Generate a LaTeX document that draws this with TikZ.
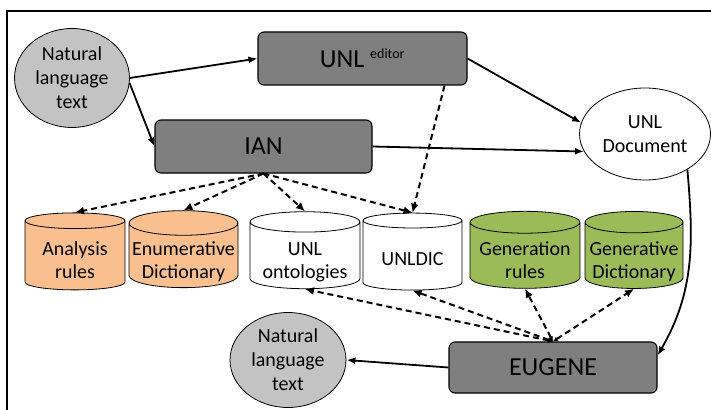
\documentclass[tikz,border=0pt]{standalone}
\usepackage{fontspec}
\setmainfont{Carlito}
\usetikzlibrary{arrows.meta,shapes.geometric}
\definecolor{boxgray}{HTML}{7F7F7F}
\definecolor{textgray}{HTML}{C3C3C3}
\definecolor{anaorange}{HTML}{F9BF8F}
\definecolor{gengreen}{HTML}{9BBB59}
% text of a store sits in the body, below the lid
\newcommand{\dblabel}[2][12pt]{\raisebox{-#1}[0pt][0pt]{\begin{tabular}{@{}c@{}}#2\end{tabular}}}

\begin{document}
\begin{tikzpicture}[x=1pt,y=-1pt,>=Latex]
  \tikzset{
    tool/.style={draw=black,fill=boxgray,line width=1.1pt,rounded corners=6pt,inner sep=0pt,font=\fontsize{26}{30}\selectfont},
    blob/.style={ellipse,draw=black,line width=0.8pt,inner sep=0pt,align=center,font=\fontsize{20}{24}\selectfont},
    store/.style={cylinder,shape border rotate=90,aspect=0.24,draw=black,line width=0.8pt,minimum height=77pt,inner sep=0pt,font=\fontsize{20}{23}\selectfont},
    flow/.style={line width=1.8pt,-{Latex[length=9pt,width=7pt]}},
    link/.style={line width=2pt,dash pattern=on 6pt off 4pt,-{Latex[length=9pt,width=8pt]}},
    both/.style={line width=2pt,dash pattern=on 6pt off 4pt,{Latex[length=5pt,width=5pt]}-{Latex[length=9pt,width=8pt]}}
  }
  \clip (0,0) rectangle (711,409);
  \draw[line width=1.3pt] (7,11) rectangle (716,414);

  % Analysis side.
  \node[blob,fill=textgray,minimum width=115pt,minimum height=99pt] (nlin) at (72,78) {Natural\\language\\text};
  \node[tool,minimum width=209pt,minimum height=53pt] (edit) at (362.5,58.5) {UNL \textsuperscript{\fontsize{14}{16}\selectfont editor}};
  \node[tool,minimum width=217pt,minimum height=53pt] (ian) at (263.5,146.5) {IAN};
  \node[blob,fill=white,minimum width=131pt,minimum height=92pt] (doc) at (645,134) {UNL\\Document};
  \draw[flow] (nlin.east)--(edit.west);
  \draw[flow] (nlin.-5)--(ian.west);
  \draw[flow] (edit.east)--(doc.170);
  \draw[flow] (ian.east)--(doc.196);

  % Resources.
  \node[store,fill=anaorange,minimum width=100pt] (ana) at (75,255.5) {\dblabel{Analysis\\rules}};
  \node[store,fill=anaorange,minimum width=109pt] (enu) at (183.5,255.5) {\dblabel{Enumerative\\Dictionary}};
  \node[store,fill=white,minimum width=110pt] (ont) at (305,255.5) {\dblabel{UNL\\ontologies}};
  \node[store,fill=white,minimum width=99pt] (dic) at (412.5,255.5) {\dblabel[11pt]{UNLDIC}};
  \node[store,fill=gengreen,minimum width=110pt] (gen) at (525,255.5) {\dblabel{Generation\\rules}};
  \node[store,fill=gengreen,minimum width=98pt] (gdi) at (634,255.5) {\dblabel{Generative\\Dictionary}};
  \draw[link] (ian.south)--(ana.north);
  \draw[link] (ian.south)--(enu.north);
  \draw[link] (ian.south)--(ont.north);
  \draw[link] (ian.south)--(dic.north);
  \draw[link] ([xshift=82pt]edit.south)--(dic.north);

  % Generation side.
  \node[tool,minimum width=208pt,minimum height=51pt] (eug) at (553,367.5) {EUGENE};
  \node[blob,fill=textgray,minimum width=116pt,minimum height=95pt] (nlout) at (288,360) {Natural\\language\\text};
  \draw[flow] (doc.-40) to[out=-85,in=60] ([yshift=12pt]eug.east);
  \draw[flow] (eug.west)--(nlout.east);
  \draw[both] (eug.north)--(ont.south);
  \draw[both] (eug.north)--(dic.south);
  \draw[both] (eug.north)--(gen.south);
  \draw[both] (eug.north)--(gdi.south);
\end{tikzpicture}
\end{document}
